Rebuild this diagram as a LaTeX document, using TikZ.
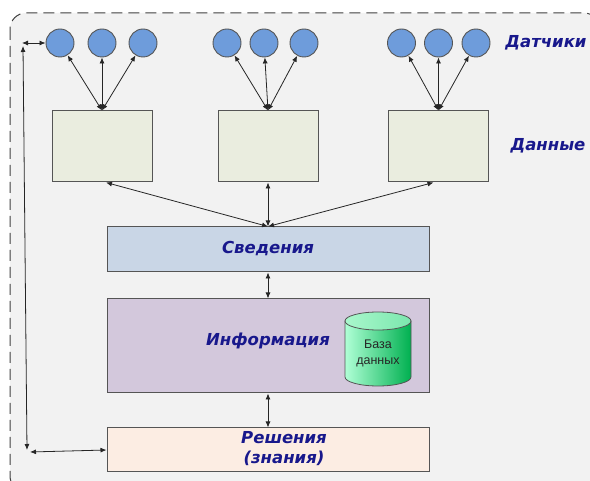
\documentclass[tikz,border=0pt]{standalone}
\usepackage{fontspec}
\setmainfont{Liberation Sans}
\newfontfamily\lblfont{DejaVu Sans}
\usetikzlibrary{arrows.meta}
\definecolor{bgc}{HTML}{F2F2F2}
\definecolor{dashc}{HTML}{404040}
\definecolor{circc}{HTML}{6E9CDB}
\definecolor{datac}{HTML}{EAEDDF}
\definecolor{svc}{HTML}{C9D6E6}
\definecolor{infc}{HTML}{D3C8DC}
\definecolor{rsc}{HTML}{FCEDE3}
\definecolor{edgec}{HTML}{555555}
\definecolor{navy}{RGB}{24,24,140}
\definecolor{dbl}{HTML}{B0FFD6}
\definecolor{dbr}{HTML}{00B050}
\definecolor{dbtop}{HTML}{A9F7CC}
\begin{document}
\begin{tikzpicture}[x=1pt,y=-1pt,
  sensor/.style={circle,draw=edgec,line width=0.9pt,fill=circc,minimum size=28pt,inner sep=0pt},
  databox/.style={rectangle,draw=edgec,line width=1pt,fill=datac,minimum width=100pt,minimum height=71pt,inner sep=0pt},
  layerbox/.style={rectangle,draw=edgec,line width=1pt,minimum width=322pt,inner sep=0pt},
  lbl/.style={font=\lblfont\bfseries\itshape\fontsize{16.5pt}{20pt}\selectfont,text=navy},
  dbl/.style={{Latex[length=6pt,width=5pt]}-{Latex[length=6pt,width=5pt]},line width=0.8pt,draw=black!85},
  ]
\clip (0,0) rectangle (590,481);
\draw[draw=dashc,line width=1pt,dash pattern=on 11pt off 6pt,rounded corners=16pt,fill=bgc] (10,13) rectangle (600,492);

% sensors
\node[sensor] (c11) at (60,43) {};
\node[sensor] (c12) at (102,43) {};
\node[sensor] (c13) at (143,43) {};
\node[sensor] (c21) at (227,43) {};
\node[sensor] (c22) at (264,43) {};
\node[sensor] (c23) at (304,43) {};
\node[sensor] (c31) at (401.5,43) {};
\node[sensor] (c32) at (438.5,43) {};
\node[sensor] (c33) at (476,43) {};

% data boxes
\node[databox] (d1) at (102,146.5) {};
\node[databox] (d2) at (268,146.5) {};
\node[databox] (d3) at (438.5,146.5) {};

% layers
\node[layerbox,fill=svc,minimum height=45pt] (sv) at (268,249.5) {};
\node[lbl] at (268,249) {Сведения};
\node[layerbox,fill=infc,minimum height=94pt] (inf) at (268,346) {};
\node[lbl] at (268,341) {Информация};
\node[layerbox,fill=rsc,minimum height=44pt] (rs) at (268,450) {};
\node[lbl,align=center] at (284,449) {Решения\\(знания)};

% database cylinder
\shade[left color=dbl,right color=dbr,draw=edgec,line width=0.8pt]
  (345,321) -- (345,377) arc[start angle=180,end angle=0,x radius=33,y radius=9] -- (411,321) -- cycle;
\shade[left color=dbtop,right color=dbl!70!dbr,draw=edgec,line width=0.8pt] (378,321) ellipse[x radius=33,y radius=9];
\node[font=\fontsize{12.5pt}{16pt}\selectfont,align=center,text=black!85] (db) at (378,353) {База\\данных};

% side labels
\node[lbl] (ldat) at (546,43) {Датчики};
\node[lbl] (ldan) at (548,146) {Данные};

% sensor arrows
\foreach \g in {1,2,3}{
  \foreach \s in {1,2,3}{
    \draw[dbl] (d\g.north) -- (c\g\s);
  }
}

% data to Сведения
\draw[dbl] ([xshift=4pt]d1.south) -- (sv.north);
\draw[dbl] (d2.south) -- (sv.north);
\draw[dbl] ([xshift=-5pt]d3.south) -- (sv.north);

% between layers
\draw[dbl] (sv.south) -- (inf.north);
\draw[dbl] (inf.south) -- (rs.north);

% feedback
\coordinate (tl) at (22,43);
\coordinate (tlv) at (23,46);
\coordinate (blv) at (27,450);
\coordinate (bl) at (30,452);
\draw[dbl] (tl) -- (c11.west);
\draw[dbl] (tlv) -- (blv);
\draw[dbl] (bl) -- (rs.west);
\end{tikzpicture}
\end{document}
